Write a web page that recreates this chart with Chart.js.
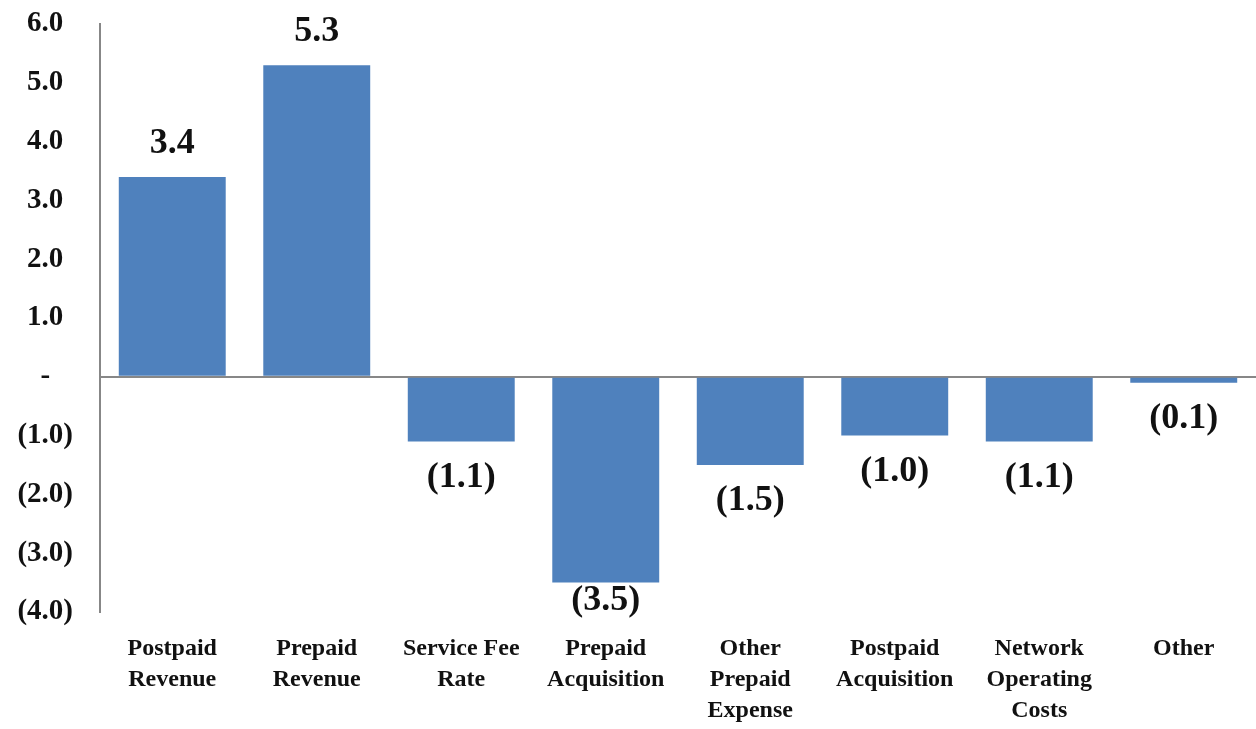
<!DOCTYPE html>
<html>
<head>
<meta charset="utf-8">
<script src="https://cdn.jsdelivr.net/npm/chart.js@4/dist/chart.umd.min.js"></script>
<style>
  html, body { margin: 0; padding: 0; background: #fff; }
  #wrap { width: 1256px; height: 729px; position: relative; }
</style>
</head>
<body>
<div id="wrap"><canvas id="chart"></canvas></div>
<script>
const categories = [
  ["Postpaid", "Revenue"],
  ["Prepaid", "Revenue"],
  ["Service Fee", "Rate"],
  ["Prepaid", "Acquisition"],
  ["Other", "Prepaid", "Expense"],
  ["Postpaid", "Acquisition"],
  ["Network", "Operating", "Costs"],
  ["Other"]
];
const values = [3.4, 5.3, -1.1, -3.5, -1.5, -1.0, -1.1, -0.1];
const yMin = -4;
const yMax = 6;

const serif = "'Liberation Serif', 'Times New Roman', serif";
const barColor = "#4f81bd";
const axisGray = "#878787";

function fmt(v) {
  if (v === 0) return "-";
  if (v < 0) return "(" + Math.abs(v).toFixed(1) + ")";
  return v.toFixed(1);
}

// value labels above / below each bar
const valueLabels = {
  id: "valueLabels",
  afterDatasetsDraw(chart) {
    const ctx = chart.ctx;
    const meta = chart.getDatasetMeta(0);
    const area = chart.chartArea;
    ctx.save();
    ctx.font = "bold 36px " + serif;
    ctx.fillStyle = "#111";
    ctx.textAlign = "center";
    ctx.textBaseline = "middle";
    meta.data.forEach((bar, i) => {
      const v = values[i];
      let y;
      if (v >= 0) {
        y = bar.y - 33;
      } else {
        y = Math.min(bar.y + 36, area.bottom - 11);
      }
      ctx.fillText(fmt(v), bar.x, y);
    });
    ctx.restore();
  }
};

new Chart(document.getElementById("chart"), {
  type: "bar",
  data: {
    labels: categories,
    datasets: [
      {
        data: values,
        backgroundColor: barColor,
        borderWidth: 0,
        barPercentage: 0.74,
        categoryPercentage: 1.0
      }
    ]
  },
  options: {
    responsive: true,
    maintainAspectRatio: false,
    animation: false,
    layout: { padding: { top: 24, right: 0, bottom: 0, left: 0 } },
    plugins: {
      legend: { display: false },
      tooltip: { enabled: false }
    },
    scales: {
      x: {
        grid: { display: false, drawTicks: false },
        border: { display: false },
        ticks: {
          color: "#111",
          padding: 21,
          maxRotation: 0,
          autoSkip: false,
          font: { family: serif, size: 24, weight: "bold", lineHeight: 1.3 }
        },
        afterFit(scale) {
          scale.height = 117;
        }
      },
      y: {
        min: yMin,
        max: yMax,
        grid: {
          drawTicks: false,
          lineWidth: 2,
          color: (c) => (c.tick && c.tick.value === 0 ? axisGray : "rgba(0,0,0,0)")
        },
        border: { display: true, color: axisGray, width: 2 },
        ticks: {
          stepSize: 1,
          color: "#111",
          padding: 27,
          crossAlign: "center",
          font: { family: serif, size: 29, weight: "bold" },
          callback: (v) => fmt(v)
        },
        afterFit(scale) {
          scale.width = 100;
          // tick padding would otherwise push the plot down
          scale.paddingTop = 0;
          scale.paddingBottom = 0;
        }
      }
    }
  },
  plugins: [valueLabels]
});
</script>
</body>
</html>
